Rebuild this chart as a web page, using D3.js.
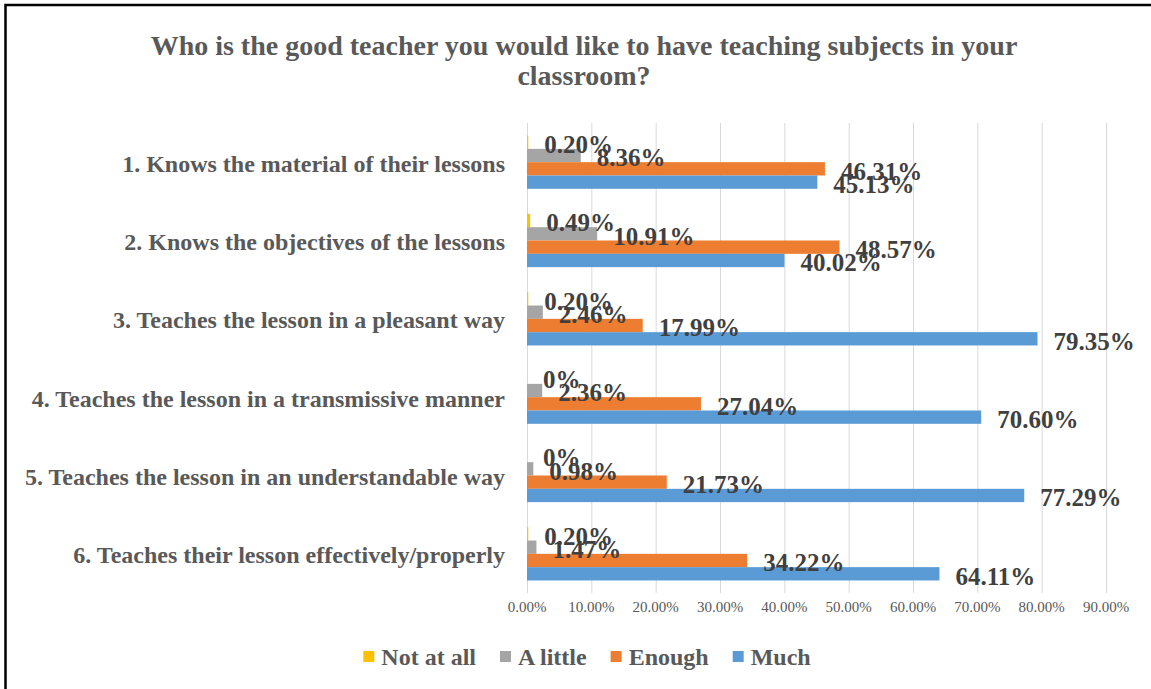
<!DOCTYPE html>
<html>
<head>
<meta charset="utf-8">
<script src="https://cdn.jsdelivr.net/npm/d3@7"></script>
<style>
  body { margin: 0; background: #fff; }
  text { font-family: "Liberation Serif", "Times New Roman", serif; }
</style>
</head>
<body>
<div id="chart"></div>
<script>
const width = 1151;
const height = 689;

const categories = [
    "1. Knows the material of their lessons",
    "2. Knows the objectives of the lessons",
    "3. Teaches the lesson in a pleasant way",
    "4. Teaches the lesson in a transmissive manner",
    "5. Teaches the lesson in an understandable way",
    "6. Teaches their lesson effectively/properly"
];
const seriesNames = ["Not at all", "A little", "Enough", "Much"];
const notAtAll = [0.20, 0.49, 0.20, 0, 0, 0.20];
const aLittle = [8.36, 10.91, 2.46, 2.36, 0.98, 1.47];
const enough = [46.31, 48.57, 17.99, 27.04, 21.73, 34.22];
const much = [45.13, 40.02, 79.35, 70.60, 77.29, 64.11];
const ticks = [0, 10, 20, 30, 40, 50, 60, 70, 80, 90];
const colors = ["#FFC000", "#A5A5A5", "#ED7D31", "#5B9BD5"];

const series = [notAtAll, aLittle, enough, much];

const svg = d3.select('#chart').append('svg')
    .attr('width', width)
    .attr('height', height);

// frame of the chart area
svg.append('rect')
    .attr('x', 5.5)
    .attr('y', 5)
    .attr('width', 1300)
    .attr('height', 900)
    .style('fill', 'none')
    .style('stroke', '#000')
    .style('stroke-width', 2.5);

// title
const title = svg.append('text')
    .attr('text-anchor', 'middle')
    .style('font-size', '28px')
    .style('font-weight', 'bold')
    .style('fill', '#595959');
title.append('tspan').attr('x', 584).attr('y', 55)
    .text("Who is the good teacher you would like to have teaching subjects in your");
title.append('tspan').attr('x', 584).attr('y', 85)
    .text("classroom?");

const x = d3.scaleLinear()
    .domain([0, 90])
    .range([527, 1106]);

const y0 = d3.scaleBand()
    .domain(categories)
    .range([123, 593])
    .paddingInner(0.32)
    .paddingOuter(0.16);

const y1 = d3.scaleBand()
    .domain(seriesNames)
    .range([0, y0.bandwidth()]);

// gridlines
svg.append('g')
    .selectAll('line')
    .data(ticks)
    .enter().append('line')
    .attr('x1', d => x(d) + 0.5)
    .attr('x2', d => x(d) + 0.5)
    .attr('y1', 123)
    .attr('y2', 593)
    .style('stroke', '#d9d9d9')
    .style('stroke-width', 1);

// tick labels
svg.append('g')
    .selectAll('text')
    .data(ticks)
    .enter().append('text')
    .attr('x', d => x(d))
    .attr('y', 612)
    .attr('text-anchor', 'middle')
    .style('font-size', '15px')
    .style('fill', '#595959')
    .text(d => d.toFixed(2) + '%');

// category labels
svg.append('g')
    .selectAll('text')
    .data(categories)
    .enter().append('text')
    .attr('x', 505)
    .attr('y', d => y0(d) + y0.bandwidth() / 2 + 1)
    .attr('dy', '.35em')
    .attr('text-anchor', 'end')
    .style('font-size', '24px')
    .style('font-weight', 'bold')
    .style('fill', '#595959')
    .text(d => d);

const cells = [];
series.forEach(function (vals, s) {
    vals.forEach(function (v, c) {
        cells.push({ cat: categories[c], name: seriesNames[s], s: s, value: v });
    });
});

const groups = svg.append('g');

groups.selectAll('rect')
    .data(cells)
    .enter().append('rect')
    .attr('x', x(0))
    .attr('y', d => y0(d.cat) + y1(d.name))
    .attr('width', d => x(d.value) - x(0))
    .attr('height', y1.bandwidth())
    .style('fill', d => colors[d.s]);

groups.selectAll('text')
    .data(cells)
    .enter().append('text')
    .attr('x', d => x(d.value) + 16)
    .attr('y', d => y0(d.cat) + y1(d.name) + y1.bandwidth() / 2 + 2)
    .attr('dy', '.35em')
    .style('font-size', '25px')
    .style('font-weight', 'bold')
    .style('fill', '#404040')
    .text(d => d.value === 0 ? '0%' : d.value.toFixed(2) + '%');

// legend
const legend = svg.append('g');
const items = legend.selectAll('g')
    .data(seriesNames)
    .enter().append('g');

items.append('rect')
    .attr('width', 11)
    .attr('height', 11)
    .attr('y', 651)
    .style('fill', (d, i) => colors[i]);

items.append('text')
    .attr('y', 657)
    .attr('dy', '.35em')
    .style('font-size', '24px')
    .style('font-weight', 'bold')
    .style('fill', '#595959')
    .text(d => d);

let widths = [];
items.select('text').each(function () { widths.push(this.getComputedTextLength()); });
const total = d3.sum(widths) + seriesNames.length * 18 + (seriesNames.length - 1) * 24;
let pos = 587 - total / 2;
items.each(function (d, i) {
    d3.select(this).select('rect').attr('x', pos);
    d3.select(this).select('text').attr('x', pos + 18);
    pos += 18 + widths[i] + 24;
});
</script>
</body>
</html>
